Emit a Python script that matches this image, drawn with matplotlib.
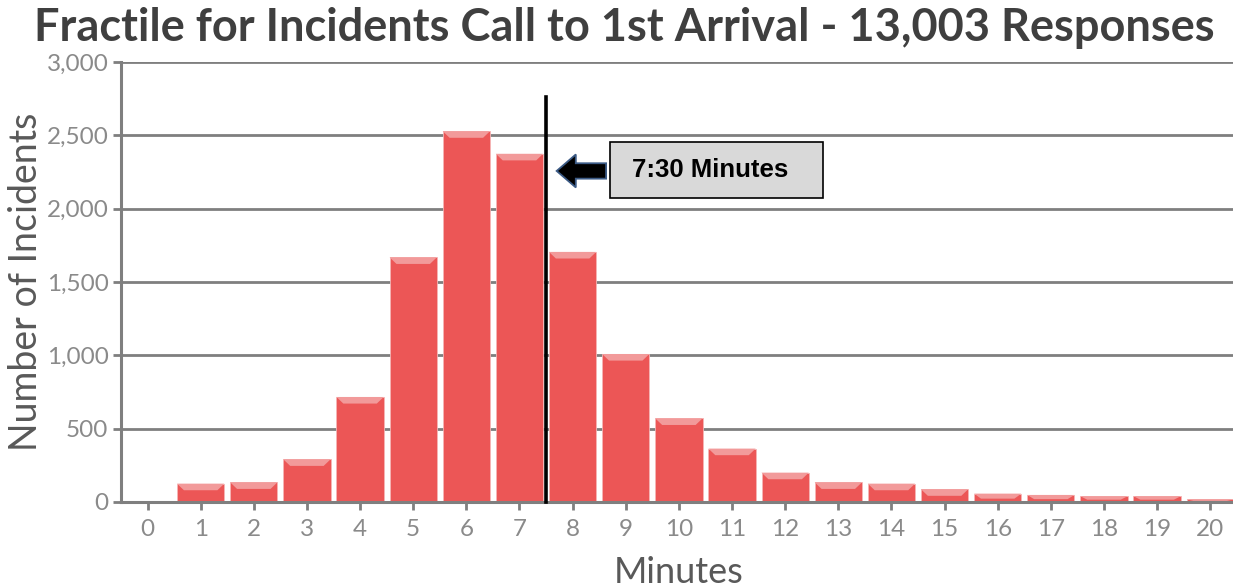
import matplotlib.pyplot as plt
from matplotlib.patches import Rectangle, FancyArrow, Polygon

# ===========================================
# DATA
# ===========================================
minutes = list(range(0, 21))
incidents = [0, 125, 134, 291, 716, 1668, 2528, 2374, 1705, 1009,
             570, 364, 200, 134, 125, 87, 57, 48, 39, 39, 18]
y_ticks = [0, 500, 1000, 1500, 2000, 2500, 3000]
marker_minute = 7.5
marker_label = "7:30 Minutes"
title = "Fractile for Incidents Call to 1st Arrival - 13,003 Responses"
# ===========================================

BAR_COLOR = "#EC5656"
TOP_COLOR = "#F29A9A"
GRID_COLOR = "#7F7F7F"
TICK_COLOR = "#8A8A8A"
FONT = "Lato"

fig = plt.figure(figsize=(12.33, 5.88), dpi=100)
ax = fig.add_axes([0.0981, 0.1463, 0.905, 0.7483])

width = 0.89
ax.bar(minutes, incidents, width=width, color=BAR_COLOR,
       edgecolor="#F5B5B5", linewidth=0.6, zorder=3)

# lighter bevel on top of each bar
bevel = 45
for x, v in zip(minutes, incidents):
    if v <= 0:
        continue
    h = min(bevel, v * 0.6)
    hw = width / 2
    ax.add_patch(Polygon([(x - hw, v), (x + hw, v),
                          (x + hw - 0.13, v - h), (x - hw + 0.13, v - h)],
                         closed=True, facecolor=TOP_COLOR, edgecolor="none",
                         zorder=4))

ax.set_xlim(-0.5, 20.5)
ax.set_ylim(0, 3000)
ax.set_xticks(minutes)
ax.set_yticks(y_ticks)
ax.set_yticklabels([f"{v:,}" for v in y_ticks])

ax.grid(axis="y", color=GRID_COLOR, linewidth=2, zorder=1)
ax.set_axisbelow(True)
for s in ["top", "right"]:
    ax.spines[s].set_visible(False)
for s in ["left", "bottom"]:
    ax.spines[s].set_color(GRID_COLOR)
    ax.spines[s].set_linewidth(2.2)
    ax.spines[s].set_zorder(5)

ax.tick_params(axis="both", colors=GRID_COLOR, width=2, length=6,
               labelcolor=TICK_COLOR, labelsize=17.5)
for lab in ax.get_xticklabels() + ax.get_yticklabels():
    lab.set_family(FONT)
ax.tick_params(axis="x", pad=6)
ax.tick_params(axis="y", pad=3)

ax.set_xlabel("Minutes", fontsize=26, color="#595959", family=FONT, labelpad=12)
ax.set_ylabel("Number of Incidents", fontsize=27, color="#595959", family=FONT,
              labelpad=2)

fig.suptitle(title, x=0.506, y=0.988, fontsize=32.5, fontweight="bold",
             color="#3F3F3F", family=FONT)

# vertical marker line at 7:30
ax.plot([marker_minute, marker_minute], [0, 2760], color="black",
        linewidth=2.6, zorder=6, clip_on=False)

# arrow pointing at the line
ax.add_patch(FancyArrow(8.63, 2257, -0.93, 0, width=105, head_width=225,
                        head_length=0.36, length_includes_head=True,
                        facecolor="black", edgecolor="#3B5A85", linewidth=1.3,
                        zorder=6))

# label box
ax.add_patch(Rectangle((8.70, 2072), 4.01, 384, facecolor="#D9D9D9",
                       edgecolor="black", linewidth=1.2, zorder=6))
ax.text(10.58, 2264, marker_label, fontsize=18.5, fontweight="bold",
        family="Liberation Sans", ha="center", va="center", zorder=7)

fig.savefig("out.png", dpi=100)
